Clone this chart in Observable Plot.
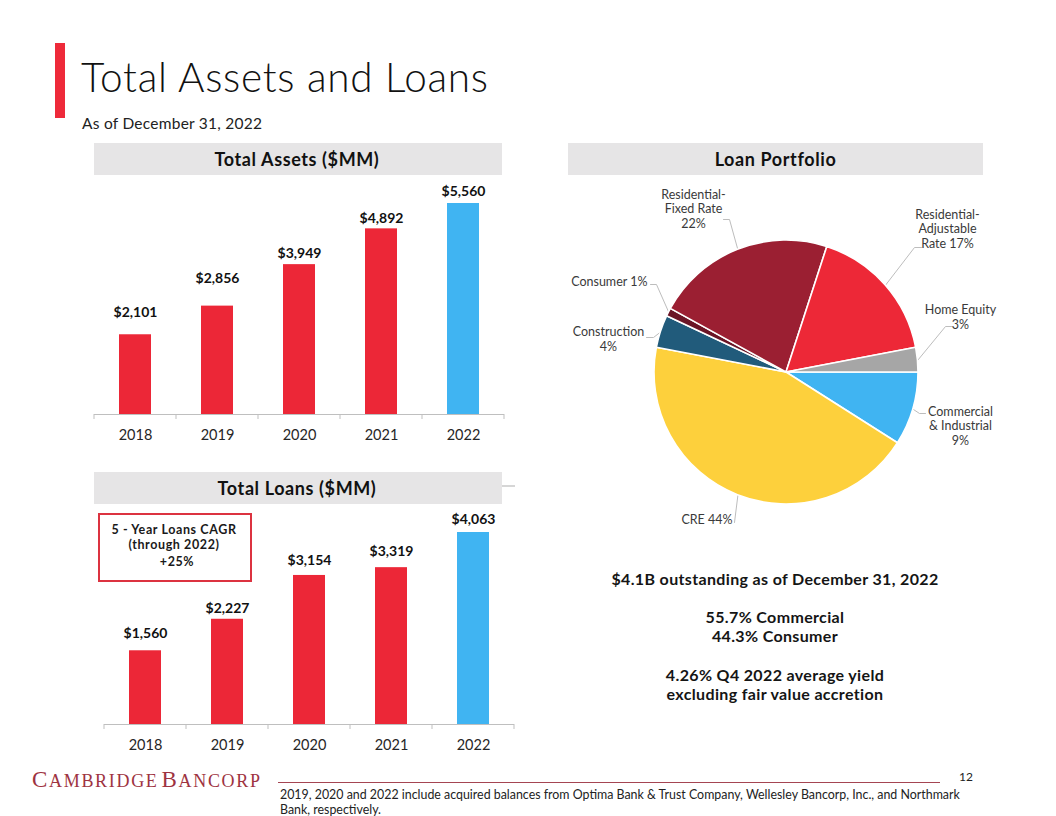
<!DOCTYPE html>
<html><head><meta charset="utf-8">
<script src="https://cdn.jsdelivr.net/npm/d3@7"></script>
<script src="https://cdn.jsdelivr.net/npm/@observablehq/plot@0.6"></script>
<style>
html,body{margin:0;padding:0;background:#fff}
#page{position:relative;width:1056px;height:816px;overflow:hidden;font-family:Lato,"Open Sans",sans-serif}
#page>svg,#page>div{position:absolute}
</style></head><body><div id="page"></div>
<script>
// ---------- data ----------
const years = ["2018", "2019", "2020", "2021", "2022"];
const totalAssets = [2101, 2856, 3949, 4892, 5560];
const totalLoans = [1560, 2227, 3154, 3319, 4063];
const assetLabels = ["$2,101", "$2,856", "$3,949", "$4,892", "$5,560"];
const loanLabels = ["$1,560", "$2,227", "$3,154", "$3,319", "$4,063"];

const loanCategories = ["Commercial & Industrial", "CRE", "Construction", "Consumer",
  "Residential-Fixed Rate", "Residential-Adjustable Rate", "Home Equity"];
const loanShares = [9, 44, 4, 1, 22, 17, 3];
const loanSliceLabels = ["Commercial\n& Industrial\n9%", "CRE 44%", "Construction\n4%", "Consumer 1%",
  "Residential-\nFixed Rate\n22%", "Residential-\nAdjustable\nRate 17%", "Home Equity\n3%"];

// ---------- styles / layout ----------
const barRed = "#ec2737", barBlue = "#40b4f2";
const loanColors = ["#40b4f2", "#fdd03c", "#215b7b", "#6b1526", "#9b1f32", "#ed2837", "#a6a6a6"];
const assetLabelGap = [18, 23, 7, 6, 8];   // px between bar top and label baseline
const loanLabelGap = [13, 6, 10, 12, 9];
const pieCenter = [786, 372], pieRadius = 132;
const pieLabelX = [960, 732, 608, 647, 693, 947, 960];
const pieLabelY = [444, 523, 350, 285, 227, 247, 328];
const pieLabelAnchor = ["middle", "end", "middle", "end", "middle", "middle", "middle"];
const leaderElbow = [[919, 413], null, [653, 337], [656, 284], [729, 219], [914, 247], [945, 326]];
const leaderEnd = [[925, 413], [734, 522], [646, 337], [650, 284], [723, 219], [921, 247], [951, 326]];

const page = d3.select("#page");
const FONT = "Lato, 'Open Sans', sans-serif";

// ---------- static slide elements ----------
const bg = page.append("svg").attr("width", 1056).attr("height", 816).style("left", "0px").style("top", "0px");
function T(x, y, text, o = {}) {
  return bg.append("text").attr("x", x).attr("y", y)
    .attr("text-anchor", o.anchor || "start")
    .attr("font-size", o.size || 14)
    .attr("font-weight", o.weight || 400)
    .attr("letter-spacing", o.ls || 0)
    .attr("fill", o.color || "#1a1a1a")
    .attr("font-family", o.family || FONT)
    .text(text);
}
bg.append("rect").attr("x", 55).attr("y", 43).attr("width", 10).attr("height", 75).attr("fill", "#ee2a3a");
T(81, 92, "Total Assets and Loans", {size: 40.5, weight: 300, color: "#111", ls: 0.7});
T(82, 129, "As of December 31, 2022", {size: 15.5, color: "#222", ls: 0.25});

bg.append("rect").attr("x", 94).attr("y", 143).attr("width", 408).attr("height", 32).attr("fill", "#e6e5e6");
bg.append("rect").attr("x", 568).attr("y", 143).attr("width", 415).attr("height", 32).attr("fill", "#e6e5e6");
bg.append("rect").attr("x", 94).attr("y", 472).attr("width", 408).attr("height", 32).attr("fill", "#e6e5e6");
bg.append("line").attr("x1", 502).attr("x2", 515).attr("y1", 486).attr("y2", 486).attr("stroke", "#c8c8c8").attr("stroke-width", 1.5);
T(297, 166, "Total Assets ($MM)", {size: 18, weight: 700, anchor: "middle", color: "#111", ls: 0.6});
T(775.5, 166, "Loan Portfolio", {size: 18, weight: 700, anchor: "middle", color: "#111", ls: 0.6});
T(297, 495, "Total Loans ($MM)", {size: 18, weight: 700, anchor: "middle", color: "#111", ls: 0.6});

bg.append("rect").attr("x", 99).attr("y", 514).attr("width", 152).attr("height", 67)
  .attr("fill", "none").attr("stroke", "#dc3340").attr("stroke-width", 2);
T(174, 534, "5 - Year Loans CAGR", {size: 12.5, weight: 700, anchor: "middle", ls: 0.6});
T(174, 549, "(through 2022)", {size: 12.5, weight: 700, anchor: "middle", ls: 0.6});
T(177, 566, "+25%", {size: 12.5, weight: 700, anchor: "middle", ls: 0.6});

const blk = {size: 16, weight: 700, anchor: "middle", ls: 0.35, color: "#151515"};
T(775, 585, "$4.1B outstanding as of December 31, 2022", blk);
T(775, 623, "55.7% Commercial", blk);
T(775, 642, "44.3% Consumer", blk);
T(775, 681, "4.26% Q4 2022 average yield", blk);
T(775, 700, "excluding fair value accretion", blk);

const logo = bg.append("text").attr("x", 32).attr("y", 787).attr("fill", "#9e3341")
  .attr("font-family", "'Liberation Serif', 'DejaVu Serif', serif").attr("textLength", 228).attr("lengthAdjust", "spacing");
[["C", 23], ["AMBRIDGE", 18], ["B", 23], ["ANCORP", 18]].forEach(([s, fs], i) =>
  logo.append("tspan").attr("font-size", fs).attr("dx", i === 2 ? 3 : 0).text(s));
bg.append("line").attr("x1", 278).attr("x2", 940).attr("y1", 782.5).attr("y2", 782.5).attr("stroke", "#a54552").attr("stroke-width", 1);
T(966, 781, "12", {size: 12, anchor: "middle", color: "#222"});
T(280, 799, "2019, 2020 and 2022 include acquired balances from Optima Bank & Trust Company, Wellesley Bancorp, Inc., and Northmark", {size: 12.4, color: "#222"});
T(280, 814, "Bank, respectively.", {size: 12.4, color: "#222"});

// ---------- bar charts ----------
function barChart({values, labels, gaps, left, top, width, height, marginTop, marginBottom, marginLeft, marginRight, yMax}) {
  const last = years.length - 1;
  const data = years.map((year, i) => ({year, value: values[i], label: labels[i], gap: gaps[i], color: i === last ? barBlue : barRed}));
  const unitsPerPx = yMax / (height - marginTop - marginBottom);
  const edgeTicks = (index, {x, y}) => {
    const g = d3.create("svg:g");
    const step = x.step(), bw = x.bandwidth(), y0 = y(0);
    const edges = [x(years[0]) + bw / 2 - step / 2, ...years.map(d => x(d) + bw / 2 + step / 2)];
    g.append("line").attr("x1", edges[0]).attr("x2", edges[edges.length - 1]).attr("y1", y0 + 0.5).attr("y2", y0 + 0.5).attr("stroke", "#bfbfbf");
    g.selectAll("line.t").data(edges).join("line").attr("class", "t")
      .attr("x1", d => d).attr("x2", d => d).attr("y1", y0).attr("y2", y0 + 5).attr("stroke", "#bfbfbf");
    return g.node();
  };
  const svg = Plot.plot({
    width, height, marginTop, marginBottom, marginLeft, marginRight,
    style: {background: "transparent", fontFamily: FONT, color: "#262626"},
    x: {domain: years, paddingInner: 0.61, paddingOuter: 0.305, axis: null},
    y: {domain: [0, yMax], axis: null},
    color: {type: "identity"},
    marks: [
      Plot.barY(data, {x: "year", y: "value", fill: "color"}),
      edgeTicks,
      Plot.axisX({tickSize: 0, tickPadding: 15, fontSize: 14.5, label: null}),
      Plot.text(data, {x: "year", y: d => d.value + d.gap * unitsPerPx, text: "label", lineAnchor: "bottom",
        fontSize: 14, fontWeight: 700, fill: "#111"})
    ]
  });
  page.append("div").style("left", left + "px").style("top", top + "px").node().appendChild(svg);
}

barChart({values: totalAssets, labels: assetLabels, gaps: assetLabelGap, left: 80, top: 180, width: 440, height: 270,
  marginTop: 23, marginBottom: 36, marginLeft: 12, marginRight: 15, yMax: 5560});
barChart({values: totalLoans, labels: loanLabels, gaps: loanLabelGap, left: 90, top: 505, width: 440, height: 265,
  marginTop: 27, marginBottom: 46, marginLeft: 12, marginRight: 14, yMax: 4063});

// ---------- pie chart ----------
const arcs = d3.pie().sort(null).value(d => d).startAngle(Math.PI / 2).endAngle(Math.PI / 2 + 2 * Math.PI)(loanShares);
const pieMark = (index, {x, y}) => {
  const cx = x(pieCenter[0]), cy = y(pieCenter[1]), r = x(pieCenter[0] + pieRadius) - cx;
  const arc = d3.arc().innerRadius(0).outerRadius(r);
  const g = d3.create("svg:g").attr("transform", `translate(${cx},${cy})`);
  g.selectAll("path").data(arcs).join("path").attr("d", arc)
    .attr("fill", (d, i) => loanColors[i]).attr("stroke", "#fff").attr("stroke-width", 1.6).attr("stroke-linejoin", "round");
  return g.node();
};
const leaders = [];
arcs.forEach((a, i) => {
  const m = (a.startAngle + a.endAngle) / 2;
  const start = [pieCenter[0] + pieRadius * Math.sin(m), pieCenter[1] - pieRadius * Math.cos(m)];
  const pts = [start, leaderElbow[i], leaderEnd[i]].filter(Boolean);
  pts.forEach(p => leaders.push({slice: loanCategories[i], x: p[0], y: p[1]}));
});
const pieLabels = loanCategories.map((c, i) => ({category: c, text: loanSliceLabels[i], x: pieLabelX[i], y: pieLabelY[i], anchor: pieLabelAnchor[i]}));
const pieText = anchor => Plot.text(pieLabels.filter(d => d.anchor === anchor), {
  x: "x", y: "y", text: "text", textAnchor: anchor, lineAnchor: "bottom", lineHeight: 1.16,
  fontSize: 12.5, fill: "#3a3a3a"});
const pieSvg = Plot.plot({
  width: 440, height: 360, margin: 0,
  style: {background: "transparent", fontFamily: FONT},
  x: {domain: [560, 1000], range: [0, 440], axis: null},
  y: {domain: [180, 540], range: [0, 360], axis: null},
  marks: [
    Plot.line(leaders, {x: "x", y: "y", z: "slice", stroke: "#bdbdbd", strokeWidth: 1}),
    pieMark,
    pieText("end"), pieText("middle")
  ]
});
page.append("div").style("left", "560px").style("top", "180px").node().appendChild(pieSvg);
</script>
</body></html>
